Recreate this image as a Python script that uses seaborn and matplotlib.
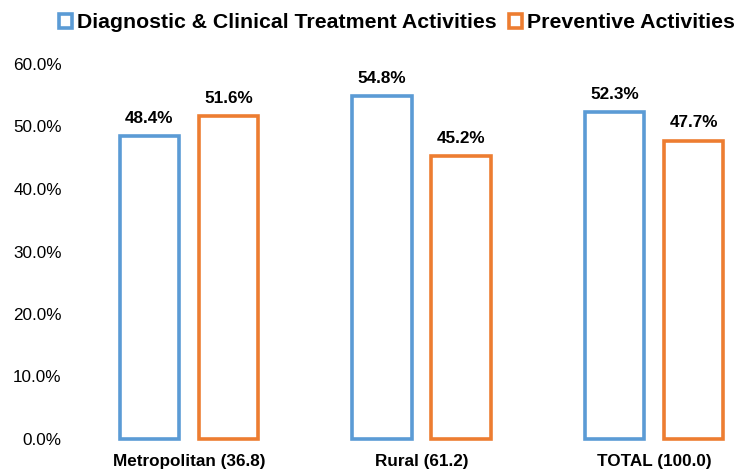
import matplotlib
matplotlib.use("Agg")
import matplotlib.pyplot as plt
import seaborn as sns
import pandas as pd
from matplotlib.ticker import FuncFormatter
from matplotlib.patches import Patch

categories = ["Metropolitan (36.8)", "Rural (61.2)", "TOTAL (100.0)"]
series_names = ["Diagnostic & Clinical Treatment Activities", "Preventive Activities"]
diagnostic = [48.4, 54.8, 52.3]
preventive = [51.6, 45.2, 47.7]
y_ticks = [0, 10, 20, 30, 40, 50, 60]

colors = ["#5B9BD5", "#ED7D31"]

sns.set_theme(style="white")
plt.rcParams['font.family'] = ['Liberation Sans', 'DejaVu Sans']
plt.rcParams['text.color'] = 'black'
plt.rcParams['xtick.color'] = 'black'
plt.rcParams['ytick.color'] = 'black'

df = pd.DataFrame({
    "category": categories * 2,
    "series": [series_names[0]] * 3 + [series_names[1]] * 3,
    "value": diagnostic + preventive,
})

W, H = 742, 473
fig = plt.figure(figsize=(W / 100, H / 100), dpi=100)
left_px, right_px, top_px, bottom_px = 70, 735, 64, 439
ax = fig.add_axes([left_px / W, 1 - bottom_px / H, (right_px - left_px) / W, (bottom_px - top_px) / H])

sns.barplot(data=df, x="category", y="value", hue="series", order=categories,
            hue_order=series_names, palette=colors, fill=False, linewidth=2.6,
            width=0.68, gap=0.25, ax=ax, legend=False, errorbar=None)

for bars in ax.containers:
    for b in bars:
        b.set_clip_on(False)
    ax.bar_label(bars, labels=[f"{v:.1f}%" for v in bars.datavalues], padding=7.5,
                 fontsize=12.3, fontweight="bold", color="black")

ax.set_ylim(0, 60)
ax.set_xlim((left_px - 189) / 232.5, (right_px - 189) / 232.5)
ax.set_yticks(y_ticks)
ax.yaxis.set_major_formatter(FuncFormatter(lambda v, p: f"{v:.1f}%"))
ax.tick_params(axis="y", labelsize=12.3, length=0, pad=6)
ax.tick_params(axis="x", labelsize=12.3, length=0, pad=11)
for lab in ax.get_xticklabels():
    lab.set_fontweight("bold")
ax.set_xlabel("")
ax.set_ylabel("")
for s in ax.spines.values():
    s.set_visible(False)
ax.grid(False)

handles = [Patch(facecolor="white", edgecolor=c, linewidth=2.6) for c in colors]
fig.legend(handles, series_names, loc="center", bbox_to_anchor=(0.535, 1 - 23 / H), ncol=2,
           frameon=False, prop={"weight": "bold", "size": 15.3}, handlelength=0.6, handleheight=0.6,
           handletextpad=0.25, columnspacing=0.6, borderaxespad=0)

fig.savefig("out.png", dpi=100)
